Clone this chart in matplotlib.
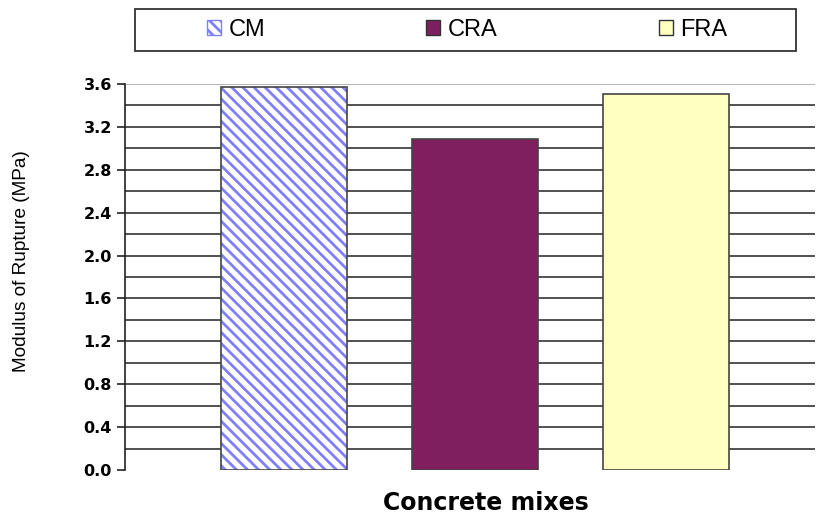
import matplotlib.pyplot as plt
from matplotlib.patches import Patch, Rectangle
import numpy as np

plt.rcParams['font.family'] = ['Liberation Sans', 'DejaVu Sans']
plt.rcParams['hatch.linewidth'] = 2.0
plt.rcParams['hatch.color'] = '#8080ff'

# Modulo de ruptura por tipo de mezcla
mezclas = ['CM', 'CRA', 'FRA']
modulo = [3.57, 3.09, 3.51]
colores = ['white', '#7f1f5f', '#ffffc0']
ticks_y = [0.0, 0.4, 0.8, 1.2, 1.6, 2.0, 2.4, 2.8, 3.2, 3.6]

fig = plt.figure(figsize=(8.16, 5.15), dpi=100)
ax = fig.add_axes([125 / 816, 1 - 470 / 515, 690 / 816, 386 / 515])

x = np.arange(len(mezclas))
ancho = 0.66

# lineas de division cada 0.2
for y in np.arange(0.2, 3.6, 0.2):
    ax.axhline(y, color='#333333', lw=1.2, zorder=0)
ax.axhline(3.6, color='#aaaaaa', lw=1.2, zorder=0)

for i, (m, v, c) in enumerate(zip(mezclas, modulo, colores)):
    if m == 'CM':
        ax.bar(x[i], v, width=ancho, color='white', edgecolor='#8080ff',
               hatch='\\\\\\', linewidth=0, zorder=2)
        ax.bar(x[i], v, width=ancho, fill=False, edgecolor='#444444',
               linewidth=1.2, zorder=3)
    else:
        ax.bar(x[i], v, width=ancho, color=c, edgecolor='#444444',
               linewidth=1.2, zorder=3)

ax.set_xlim(-0.83, 2.78)
ax.set_ylim(0, 3.6)
ax.set_yticks(ticks_y)
ax.set_yticklabels([f'{t:.1f}' for t in ticks_y], fontsize=11.5,
                   fontweight='bold', family='DejaVu Sans')
ax.set_xticks([])
for lado in ['top', 'right', 'bottom']:
    ax.spines[lado].set_visible(False)
ax.spines['left'].set_color('#222222')
ax.spines['left'].set_linewidth(1.2)
ax.tick_params(axis='y', direction='out', length=6, width=1.2, color='#222222', pad=3.5)

fig.text(22 / 816, 1 - 261 / 515, 'Modulus of Rupture (MPa)', rotation=90,
         ha='center', va='center', fontsize=13.7)
fig.text(486 / 816, 1 - 503 / 515, 'Concrete mixes', ha='center', va='center',
         fontsize=17, fontweight='bold', family='DejaVu Sans')

# leyenda arriba en un recuadro
fig.patches.append(Rectangle((135 / 816, 1 - 51 / 515), 661 / 816, 42 / 515,
                             transform=fig.transFigure, fill=False,
                             edgecolor='#333333', linewidth=1.3))
handles = [
    Patch(facecolor='white', edgecolor='#8080ff', hatch='\\\\\\', label='CM'),
    Patch(facecolor='#7f1f5f', edgecolor='#333333', label='CRA'),
    Patch(facecolor='#ffffc0', edgecolor='#333333', label='FRA'),
]
leg = fig.legend(handles=handles, ncol=3, loc='center', mode='expand',
                 bbox_to_anchor=(207 / 816, 1 - 40 / 515, 520 / 816, 20 / 515),
                 fontsize=17, frameon=False,
                 handlelength=0.6, handleheight=0.6, handletextpad=0.3,
                 borderpad=0, borderaxespad=0)

fig.savefig('out.png', dpi=100)
